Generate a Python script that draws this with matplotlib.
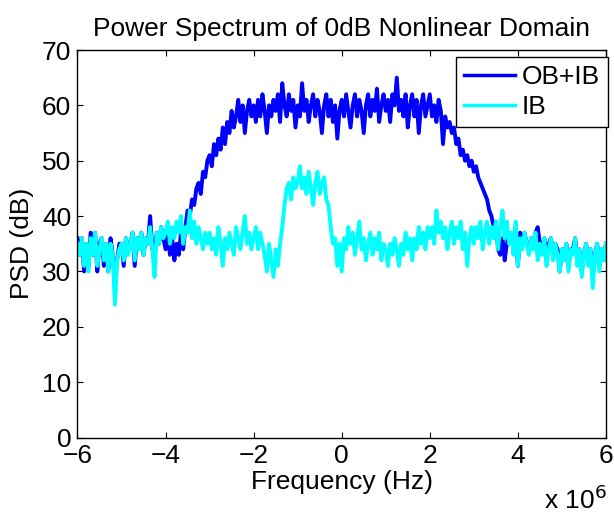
import numpy as np
import matplotlib.pyplot as plt

plt.rcParams['font.family'] = ['Liberation Sans', 'DejaVu Sans']

# frequency grid in MHz (axis carries the x10^6 factor), 0.05 MHz steps
freq_mhz = np.round(np.arange(-6.0, 6.0001, 0.05), 2)

# OB+IB spectrum in dB, 20 samples per MHz
psd_ob_ib = [
    36, 33, 36, 30, 35, 31, 37, 33, 37, 30, 35, 36, 31, 35, 30, 36, 33, 28, 32, 35,
    35, 31, 36, 34, 35, 37, 31, 36, 35, 37, 33, 36, 35, 40, 34, 33, 37, 35, 38, 36,
    34, 37, 33, 36, 32, 35, 33, 37, 34, 38, 41, 40, 43, 42, 45, 46, 44, 48, 47, 50,
    51, 49, 53, 51, 54, 52, 56, 53, 57, 55, 59, 56, 58, 61, 57, 60, 55, 59, 61, 58,
    60, 57, 61, 58, 62, 59, 55, 60, 58, 61, 59, 62, 57, 64, 60, 58, 62, 59, 61, 56,
    60, 58, 64, 59, 61, 57, 60, 62, 58, 61, 59, 55, 60, 62, 58, 61, 57, 60, 54, 59,
    61, 58, 62, 59, 56, 60, 62, 58, 61, 59, 55, 60, 62, 58, 61, 59, 63, 57, 60, 62,
    59, 61, 57, 62, 60, 65, 59, 61, 58, 62, 56, 60, 62, 58, 61, 55, 60, 62, 58, 60,
    62, 58, 60, 57, 61, 59, 53, 58, 56, 57, 55, 56, 53, 54, 51, 52, 50, 51, 49, 50,
    48, 49, 47, 46, 45, 44, 43, 41, 40, 38, 39, 34, 33, 36, 32, 35, 37, 36, 34, 38,
    31, 37, 35, 37, 35, 34, 36, 35, 37, 38, 35, 34, 36, 32, 35, 36, 33, 35, 34, 30,
    34, 33, 35, 31, 34, 34, 36, 32, 34, 30, 33, 35, 32, 34, 29, 33, 35, 31, 34, 32,
    35,
]

# IB-only spectrum in dB
psd_ib = [
    35, 33, 36, 31, 35, 30, 36, 33, 37, 31, 34, 36, 32, 35, 30, 35, 33, 24, 32, 34,
    35, 32, 36, 33, 35, 37, 32, 36, 34, 37, 33, 36, 35, 38, 34, 29, 37, 35, 38, 36,
    37, 39, 35, 38, 36, 39, 37, 40, 35, 38, 37, 41, 36, 39, 35, 38, 36, 34, 37, 35,
    37, 34, 36, 33, 38, 35, 31, 36, 34, 37, 35, 33, 38, 36, 34, 37, 40, 35, 37, 34,
    36, 38, 34, 37, 35, 33, 30, 35, 32, 29, 34, 31, 35, 38, 42, 45, 46, 43, 47, 45,
    46, 49, 45, 47, 44, 48, 45, 42, 46, 48, 44, 46, 47, 43, 42, 38, 35, 36, 31, 35,
    30, 36, 34, 38, 35, 37, 33, 36, 39, 34, 36, 32, 35, 37, 33, 36, 34, 37, 32, 35,
    34, 31, 35, 33, 36, 34, 31, 35, 33, 37, 34, 36, 32, 36, 34, 38, 35, 37, 34, 38,
    36, 38, 35, 41, 37, 39, 36, 38, 34, 37, 39, 35, 38, 36, 39, 34, 37, 31, 36, 38,
    35, 38, 36, 39, 34, 37, 39, 35, 38, 36, 39, 34, 38, 41, 36, 39, 35, 37, 33, 39,
    31, 36, 34, 37, 35, 33, 36, 34, 37, 32, 35, 33, 36, 31, 34, 36, 32, 35, 33, 30,
    34, 32, 35, 30, 34, 33, 36, 31, 34, 29, 33, 35, 31, 34, 27, 33, 35, 30, 34, 32,
    35,
]

series_labels = ['OB+IB', 'IB']
fs = 19

fig = plt.figure(figsize=(6.14, 5.16), dpi=100)
ax = fig.add_axes([0.1262, 0.1521, 0.8607, 0.7510])

ax.plot(freq_mhz, psd_ob_ib, color='#0000ff', linewidth=2.8, label=series_labels[0])
ax.plot(freq_mhz, psd_ib, color='#00ffff', linewidth=2.8, label=series_labels[1])

ax.set_xlim(-6, 6)
ax.set_ylim(0, 70)
ax.set_xticks(np.arange(-6, 7, 2))
ax.set_yticks(np.arange(0, 71, 10))
ax.tick_params(direction='in', length=4, width=0.8, top=True, right=True,
               labelsize=fs, pad=4.5)
ax.tick_params(axis='x', pad=5)
for sp in ax.spines.values():
    sp.set_linewidth(1.0)

ax.set_title('Power Spectrum of 0dB Nonlinear Domain', fontsize=fs, pad=10)
ax.set_xlabel('Frequency (Hz)', fontsize=fs, labelpad=1)
ax.set_ylabel('PSD (dB)', fontsize=fs, labelpad=6)
fig.text(0.886, 0.014, r'x 10$^{6}$', fontsize=fs, ha='left', va='baseline')

leg = ax.legend(loc='upper right', bbox_to_anchor=(1.0038, 0.982), borderaxespad=0,
                fontsize=fs, fancybox=False, edgecolor='black', framealpha=1,
                handlelength=1.95, handletextpad=0.25, labelspacing=0.25,
                borderpad=0.3)
leg.get_frame().set_linewidth(1.0)
for h in leg.get_lines():
    h.set_linewidth(2.5)

fig.savefig('out.png', dpi=100)
